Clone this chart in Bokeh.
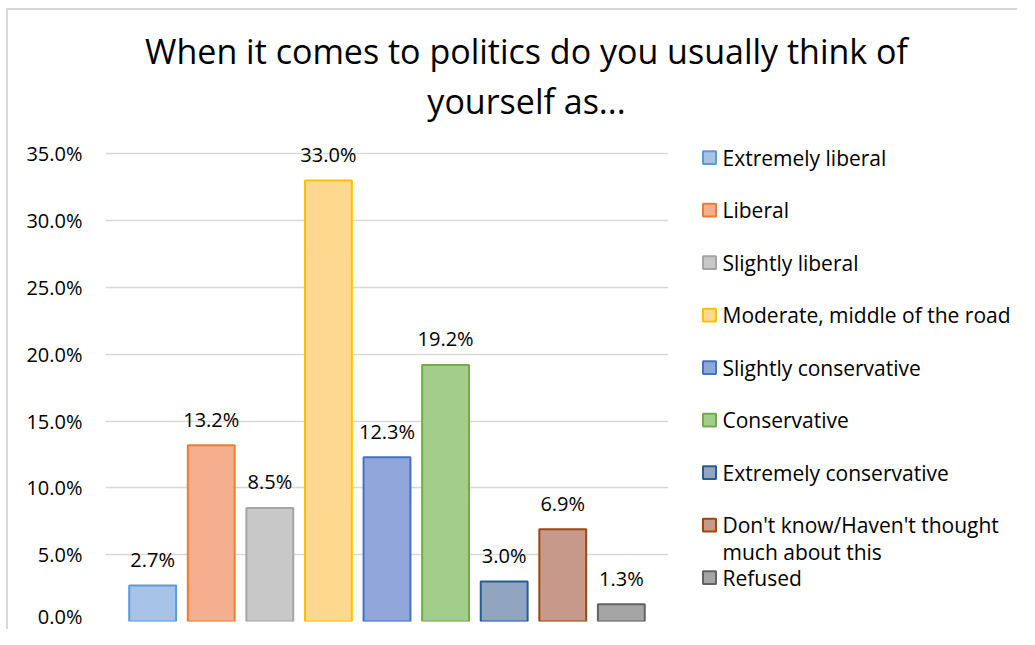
from bokeh.plotting import figure
from bokeh.layouts import column, row
from bokeh.models import Range1d, FixedTicker, NumeralTickFormatter, ColumnDataSource
from bokeh.core.properties import value
from bokeh.embed import file_html
from bokeh.resources import INLINE

# ---- data ----
categories = ["Extremely liberal", "Liberal", "Slightly liberal",
              "Moderate, middle of the road", "Slightly conservative",
              "Conservative", "Extremely conservative",
              "Don't know/Haven't thought\nmuch about this", "Refused"]
percent = [2.7, 13.2, 8.5, 33.0, 12.3, 19.2, 3.0, 6.9, 1.3]
fill_colors = ["#a8c3e8", "#f5ae8e", "#c8c8c8", "#fed88f", "#91a6da",
               "#a3cd8b", "#91a5c1", "#c7998a", "#a5a5a5"]
line_colors = ["#5b9bd5", "#ed7d31", "#a5a5a5", "#ffc000", "#4472c4",
               "#70ad47", "#255e91", "#9e480e", "#636363"]
y_ticks = [0, 0.05, 0.10, 0.15, 0.20, 0.25, 0.30, 0.35]
title_lines = ["When it comes to politics do you usually think of", "yourself as..."]

FONT = "Open Sans"
TXT = "#000000"

def bare(p):
    p.outline_line_color = None
    p.background_fill_color = "white"
    p.border_fill_color = "white"
    p.xgrid.visible = False
    p.ygrid.visible = False
    return p

# ---- title ----
TW, TH = 1009, 128
pt = figure(width=TW, height=TH, x_range=Range1d(0, TW), y_range=Range1d(TH, 0),
            x_axis_location=None, y_axis_location=None, toolbar_location=None,
            output_backend="svg", min_border=0, title=None)
bare(pt)
pt.text(x=[518, 518], y=[40, 90], text=title_lines, text_font=value(FONT),
        text_font_size="34px", text_align="center", text_baseline="alphabetic",
        text_color=TXT)

# ---- chart ----
n = len(percent)
idx = list(range(n))
tops = [v / 100 for v in percent]
labels = [f"{v:.1f}%" for v in percent]
src = ColumnDataSource(dict(x=idx, top=tops, lab=labels, fc=fill_colors, lc=line_colors))

CH = 491
pc = figure(width=664, height=CH, x_range=Range1d(-0.805, n - 1 + 0.805),
            y_range=Range1d(0, 0.36), x_axis_location=None,
            toolbar_location=None, output_backend="svg", title=None,
            min_border_left=97, min_border_right=4, min_border_top=2, min_border_bottom=8)
pc.outline_line_color = None
pc.xgrid.visible = False
pc.ygrid.ticker = FixedTicker(ticks=y_ticks)
pc.ygrid.grid_line_color = "#d9d9d9"
pc.ygrid.grid_line_width = 1.5
pc.yaxis.ticker = FixedTicker(ticks=y_ticks)
pc.yaxis.formatter = NumeralTickFormatter(format="0.0%")
pc.yaxis.axis_line_color = None
pc.yaxis.major_tick_line_color = None
pc.yaxis.minor_tick_line_color = None
pc.yaxis.major_tick_out = 0
pc.yaxis.major_tick_in = 0
pc.yaxis.major_label_standoff = 23
pc.yaxis.major_label_text_font = FONT
pc.yaxis.major_label_text_font_size = "20px"
pc.yaxis.major_label_text_color = TXT

pc.vbar(x="x", top="top", width=0.8, source=src, fill_color="fc",
        line_color="lc", line_width=2)
pc.text(x="x", y="top", text="lab", source=src, text_font=value(FONT),
        text_font_size="20px", text_align="center", text_baseline="alphabetic",
        y_offset=-26, text_color=TXT)

# ---- legend ----
LW = 345
pl = figure(width=LW, height=CH, x_range=Range1d(0, LW), y_range=Range1d(CH, 0),
            x_axis_location=None, y_axis_location=None, toolbar_location=None,
            output_backend="svg", min_border=0, title=None)
bare(pl)
step = 53.6
ys = [17.5 + i * step for i in range(n)]
pl.rect(x=[37] * n, y=ys, width=13, height=13, fill_color=fill_colors,
        line_color=line_colors, line_width=2)
tx, ty, tt = [], [], []
for i, lab in enumerate(categories):
    for j, part in enumerate(lab.split("\n")):
        tx.append(50)
        ty.append(ys[i] + j * 27.5)
        tt.append(part)
pl.text(x=tx, y=ty, text=tt, text_font=value(FONT), text_font_size="21px",
        text_align="left", text_baseline="middle", text_color=TXT)

layout = column(pt, row(pc, pl),
                styles={"margin-left": "6px", "margin-top": "8px",
                        "border-top": "2px solid #d9d9d9",
                        "border-left": "2px solid #d9d9d9"})

open("out.html", "w").write(file_html(layout, INLINE))
